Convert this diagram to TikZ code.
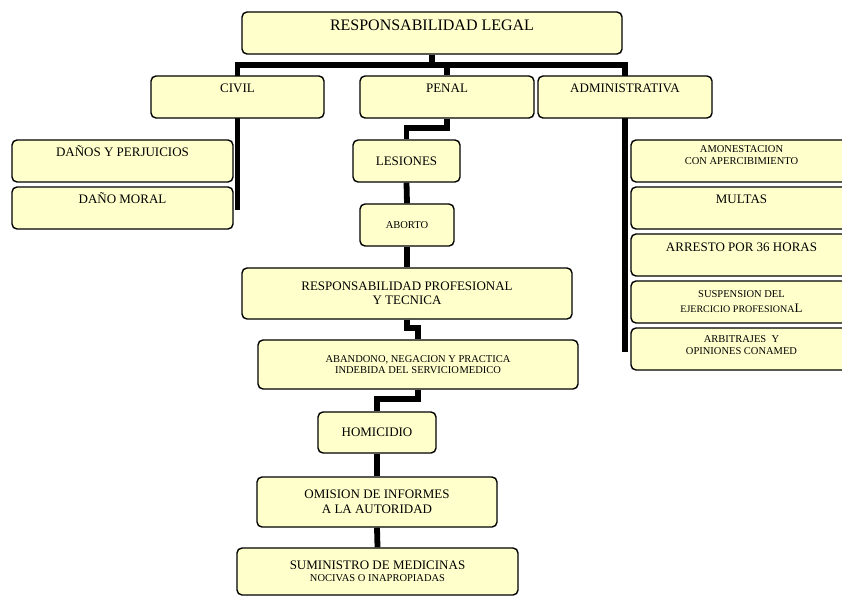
\documentclass[tikz,border=0pt]{standalone}
\usepackage{fontspec}
\setmainfont{Liberation Serif}
\usetikzlibrary{backgrounds}
\definecolor{boxfill}{HTML}{FFFFCC}

\tikzset{
  x=1pt, y=-1pt,
  box/.style={draw=black, line width=1.4pt, rounded corners=5pt, fill=boxfill,
              inner sep=0pt, align=center},
  link/.style={draw=black, line width=5.8pt, line join=miter},
  fbig/.style={font=\fontsize{16}{18}\selectfont},
  fmid/.style={font=\fontsize{13}{14.5}\selectfont},
  fsmall/.style={font=\fontsize{10.5}{12}\selectfont},
  lbl/.style={inner sep=0pt, align=center, anchor=base},
}

% \boxat[style]{x1}{y1}{x2}{y2}{name}{text}
\newcommand\boxat[7][]{%
  \node[box,#1,minimum width={#4pt-#2pt},minimum height={#5pt-#3pt}]
    (#6) at ({(#2+#4)/2},{(#3+#5)/2}) {#7};}
% \toplbl[style]{box}{drop of the last baseline below the top edge}{text}
\newcommand\toplbl[4][]{%
  \node[lbl,#1] (#2-t) at ([yshift=-#3pt]#2.north) {#4};}

\begin{document}
\begin{tikzpicture}
\useasboundingbox (0,0) rectangle (842,597);
\clip (0,0) rectangle (842,597);

% top level
\boxat{242}{12}{622}{54}{top}{}
\toplbl[fbig]{top}{19.5}{RESPONSABILIDAD LEGAL}

\boxat{151}{76}{324}{118}{civil}{}
\toplbl[fmid]{civil}{17}{CIVIL}
\boxat{360}{76}{534}{118}{penal}{}
\toplbl[fmid]{penal}{17}{PENAL}
\boxat{538}{76}{712}{118}{admin}{}
\toplbl[fmid]{admin}{17}{ADMINISTRATIVA}

% civil branch
\boxat{12}{140}{233}{182}{danos}{}
\toplbl[fmid]{danos}{17.5}{DAÑOS Y PERJUICIOS}
\boxat{12}{187}{233}{229}{moral}{}
\toplbl[fmid]{moral}{17.5}{DAÑO MORAL}

% administrative branch
\boxat{631}{140}{852}{182}{amon}{}
\toplbl[fsmall]{amon}{25}{AMONESTACION\\CON APERCIBIMIENTO}
\boxat{631}{187}{852}{229}{multas}{}
\toplbl[fmid]{multas}{17.5}{MULTAS}
\boxat{631}{234}{852}{276}{arresto}{}
\toplbl[fmid]{arresto}{18.5}{ARRESTO POR 36 HORAS}
\boxat{631}{281}{852}{323}{susp}{}
\toplbl[fsmall]{susp}{32}{SUSPENSION DEL\\[3pt]{\fontsize{10}{12}\selectfont EJERCICIO PROFESIONA}{\fontsize{13}{14}\selectfont L}}
\boxat{631}{328}{852}{370}{arbit}{}
\toplbl[fsmall]{arbit}{27}{ARBITRAJES\ \ Y\\OPINIONES CONAMED}

% penal branch
\boxat[fmid]{353}{140}{460}{182}{lesiones}{LESIONES}
\boxat[fsmall]{360}{204}{454}{246}{aborto}{ABORTO}
\boxat[fmid]{242}{268}{572}{319}{rprof}{RESPONSABILIDAD PROFESIONAL\\Y TECNICA}
\boxat[fsmall,font=\fontsize{10.5}{11}\selectfont]{258}{340}{578}{389}{aband}{ABANDONO, NEGACION Y PRACTICA\\INDEBIDA DEL SERVICIO\hspace{0.5pt}MEDICO}
\boxat[fmid]{318}{412}{436}{453}{homic}{HOMICIDIO}
\boxat[font=\fontsize{13}{15}\selectfont]{257}{477}{497}{527}{omision}{OMISION DE INFORMES\\A LA AUTORIDAD}
\boxat[font=\fontsize{13}{12}\selectfont]{237}{548}{518}{595}{sumin}{SUMINISTRO DE MEDICINAS\\{\fontsize{10.5}{12}\selectfont NOCIVAS O INAPROPIADAS}}

% free ends and elbow levels of the connectors
\coordinate (bar) at (0,65);
\coordinate (civend) at (237.5,210);
\coordinate (admend) at (625,352);
\coordinate (e1) at (0,128);
\coordinate (e2) at (0,328);
\coordinate (e3) at (0,399);

\begin{pgfonlayer}{background}
  \draw[link] (top.south) -- (top.south |- bar);
  \draw[link] (civend) -- (civil.north |- bar) -- (admin.north |- bar) -- (admend);
  \draw[link] (penal.north |- bar) -- (penal.north);
  \draw[link] (penal.south) -- (penal.south |- e1) -- (lesiones.north |- e1) -- (lesiones.north);
  \draw[link] (lesiones.south) -- (aborto.north);
  \draw[link] (aborto.south) -- (rprof.north);
  \draw[link] (rprof.south) -- (rprof.south |- e2) -- (aband.north |- e2) -- (aband.north);
  \draw[link] (aband.south) -- (aband.south |- e3) -- (homic.north |- e3) -- (homic.north);
  \draw[link] (homic.south) -- (omision.north);
  \draw[link] (omision.south) -- (sumin.north);
\end{pgfonlayer}
\end{tikzpicture}
\end{document}
